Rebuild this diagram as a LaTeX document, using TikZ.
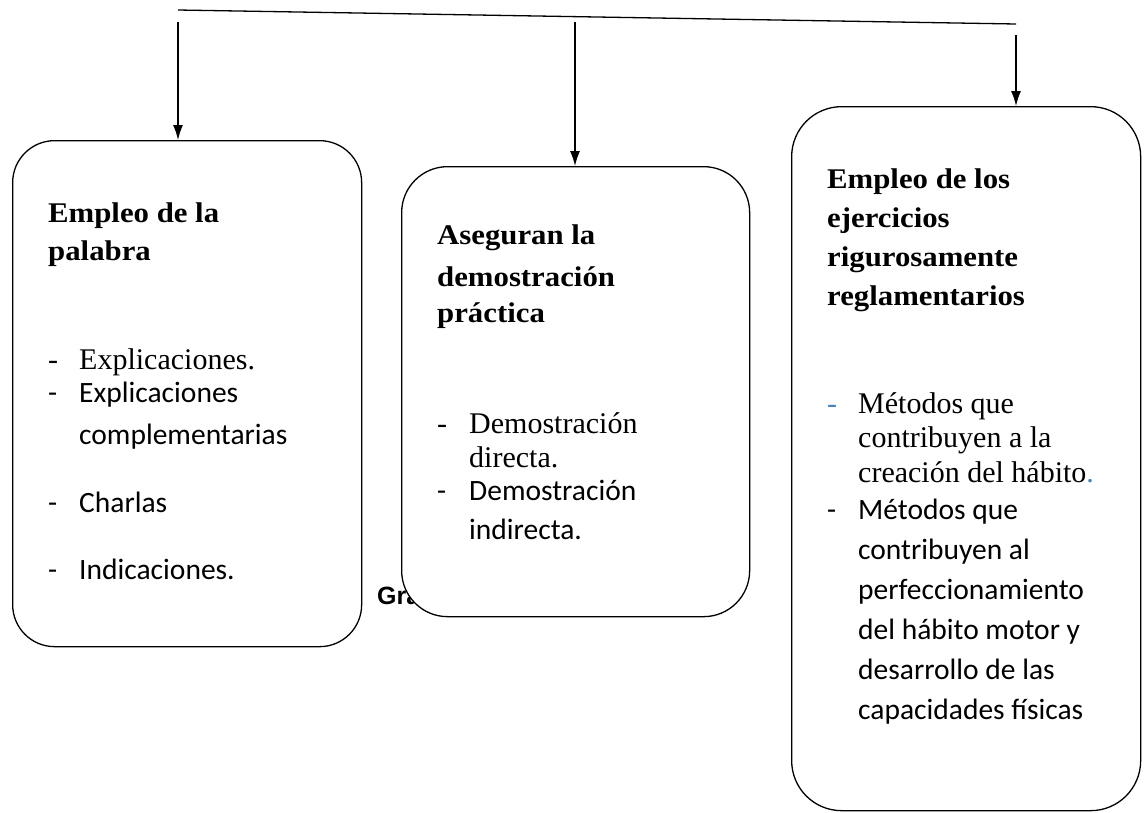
\documentclass[tikz,border=0pt]{standalone}
\usepackage{fontspec}
\setmainfont{Liberation Serif}
\newfontfamily\headfont[FakeStretch=1.08]{Liberation Serif}
\newfontfamily\calibri{Carlito}
\newfontfamily\arial{Liberation Sans}
\usetikzlibrary{arrows.meta}
\definecolor{dashblue}{RGB}{79,129,189}

\begin{document}
\begin{tikzpicture}[x=1pt, y=-1pt]

\tikzstyle{box} = [rectangle, draw, fill=white, line width=1.3pt, anchor=north west, inner sep=0pt]
\tikzstyle{headtxt} = [font=\headfont\bfseries\fontsize{28.5}{34}\selectfont, anchor=base west, inner sep=0pt]
\tikzstyle{sertxt} = [font=\fontsize{30}{36}\selectfont, anchor=base west, inner sep=0pt]
\tikzstyle{santxt} = [font=\calibri\fontsize{29.5}{36}\selectfont, anchor=base west, inner sep=0pt]
\tikzstyle{arr} = [-{Latex[length=15pt,width=10pt]}, line width=1.3pt]

\useasboundingbox (0,0) rectangle (1146,812);

% boxes
\node[box, minimum width=349pt, minimum height=506pt, rounded corners=42pt] (pal) at (12,140) {};
\node[font=\arial\bfseries\fontsize{25}{30}\selectfont, anchor=base west, inner sep=0pt] (gra) at (377,604) {Gra};
\node[box, minimum width=348pt, minimum height=450pt, rounded corners=46pt] (dem) at (401,166) {};
\node[box, minimum width=349pt, minimum height=704pt, rounded corners=50pt] (eje) at (791,106) {};

% top line and arrows
\coordinate (tl) at (178,10);
\coordinate (tr) at (1016,24);
\coordinate (s1) at (178,22);
\coordinate (s2) at (575,22);
\coordinate (s3) at (1016,35);

\draw[line width=1.3pt] (tl) -- (tr);
\draw[arr] (s1) -- (s1 |- pal.north);
\draw[arr] (s2) -- (s2 |- dem.north);
\draw[arr] (s3) -- (s3 |- eje.north);

% first box
\node[headtxt] (p1) at (48,222) {Empleo de la};
\node[headtxt] (p2) at (48,260) {palabra};
\node[sertxt] (pd1) at (48,369) {-};
\node[sertxt] (pi1) at (79,369) {Explicaciones.};
\node[santxt] (pd2) at (48,402) {-};
\node[santxt] (pi2) at (79,402) {Explicaciones};
\node[santxt] (pi2b) at (79,444) {complementarias};
\node[santxt] (pd3) at (48,512) {-};
\node[santxt] (pi3) at (79,512) {Charlas};
\node[santxt] (pd4) at (48,579) {-};
\node[santxt] (pi4) at (79,579) {Indicaciones.};

% second box
\node[headtxt] (d1) at (437,244) {Aseguran la};
\node[headtxt] (d2) at (437,286) {demostración};
\node[headtxt] (d3) at (437,322) {práctica};
\node[sertxt] (dd1) at (437,433) {-};
\node[sertxt] (di1) at (469,433) {Demostración};
\node[sertxt] (di1b) at (469,467) {directa.};
\node[santxt] (dd2) at (437,500) {-};
\node[santxt] (di2) at (469,500) {Demostración};
\node[santxt] (di2b) at (469,539) {indirecta.};

% third box
\node[headtxt] (e1) at (827,188) {Empleo de los};
\node[headtxt] (e2) at (827,227) {ejercicios};
\node[headtxt] (e3) at (827,266) {rigurosamente};
\node[headtxt] (e4) at (827,305) {reglamentarios};
\node[sertxt, text=dashblue] (ed1) at (827,413) {-};
\node[sertxt] (ei1) at (858,413) {Métodos que};
\node[sertxt] (ei1b) at (858,447) {contribuyen a la};
\node[sertxt] (ei1c) at (858,482) {creación del hábito{\color{dashblue}.}};
\node[santxt] (ed2) at (827,519) {-};
\node[santxt] (ei2) at (858,519) {Métodos que};
\node[santxt] (ei2b) at (858,559) {contribuyen al};
\node[santxt] (ei2c) at (858,599) {perfeccionamiento};
\node[santxt] (ei2d) at (858,639) {del hábito motor y};
\node[santxt] (ei2e) at (858,679) {desarrollo de las};
\node[santxt] (ei2f) at (858,719) {capacidades físicas};

\end{tikzpicture}
\end{document}
